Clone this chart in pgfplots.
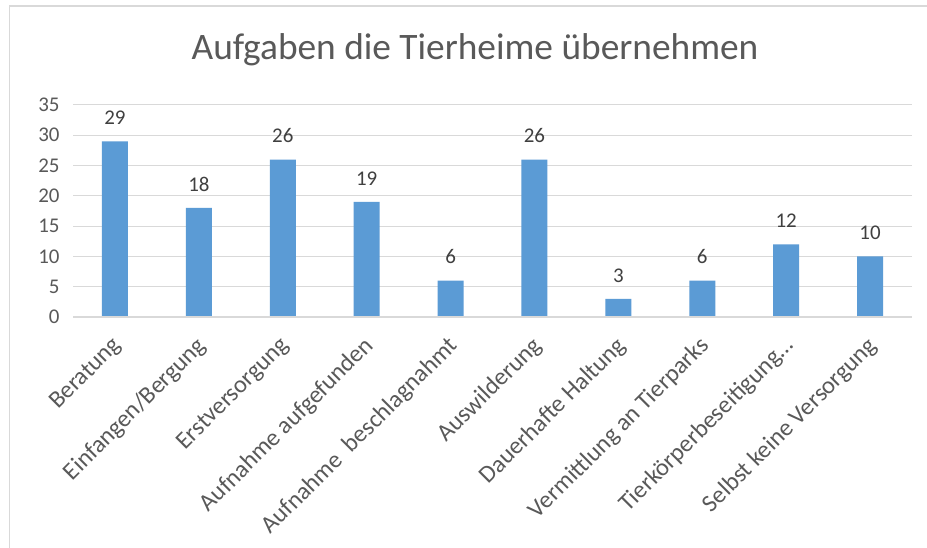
\documentclass[border=0pt]{standalone}
\usepackage{pgfplots}
\pgfplotsset{compat=1.18}
\usepackage{fontspec}
\setmainfont{Carlito}
\definecolor{barblue}{HTML}{5B9BD5}
\definecolor{gridgray}{HTML}{D9D9D9}
\definecolor{textgray}{HTML}{595959}
\definecolor{labelgray}{HTML}{404040}
\begin{document}
\begin{tikzpicture}[x=1bp,y=1bp]
\useasboundingbox (0,0) rectangle (927,548);
\fill[white] (0,0) rectangle (927,548);
\draw[gridgray, line width=1.5bp] (9.5,0) -- (9.5,542) -- (927,542);
\node[text=textgray, font=\fontsize{37.5}{44}\selectfont] at (475,498) {Aufgaben die Tierheime übernehmen};
\begin{axis}[
  at={(73bp,231bp)}, anchor=south west,
  scale only axis, width=839bp, height=212bp,
  xmin=-0.5, xmax=9.5, ymin=0, ymax=35,
  ytick={0,5,...,35},
  xtick={0,...,9},
  xticklabels={Beratung,Einfangen/Bergung,Erstversorgung,Aufnahme aufgefunden,Aufnahme \ beschlagnahmt,Auswilderung,Dauerhafte Haltung,Vermittlung an Tierparks,Tierkörperbeseitigung…,Selbst keine Versorgung},
  xticklabel style={anchor=north east, xshift=-4bp, yshift=-13bp, rotate=45, font=\fontsize{24.5}{28}\selectfont, text=textgray},
  yticklabel style={font=\fontsize{21}{24}\selectfont, text=textgray, xshift=-10bp},
  /pgf/number format/assume math mode=true,
  major tick length=0pt,
  ymajorgrids, grid style={gridgray, line width=1bp},
  axis line style={draw=none},
  ybar, bar width=26bp,
  nodes near coords,
  every node near coord/.append style={font=\fontsize{21}{24}\selectfont, text=labelgray, yshift=13bp},
  clip=false,
]
\addplot[fill=barblue, draw=none] coordinates {(0,29) (1,18) (2,26) (3,19) (4,6) (5,26) (6,3) (7,6) (8,12) (9,10)};
\draw[gridgray, line width=1.5bp] (axis cs:-0.5,0) -- (axis cs:9.5,0);
\end{axis}
\end{tikzpicture}
\end{document}
